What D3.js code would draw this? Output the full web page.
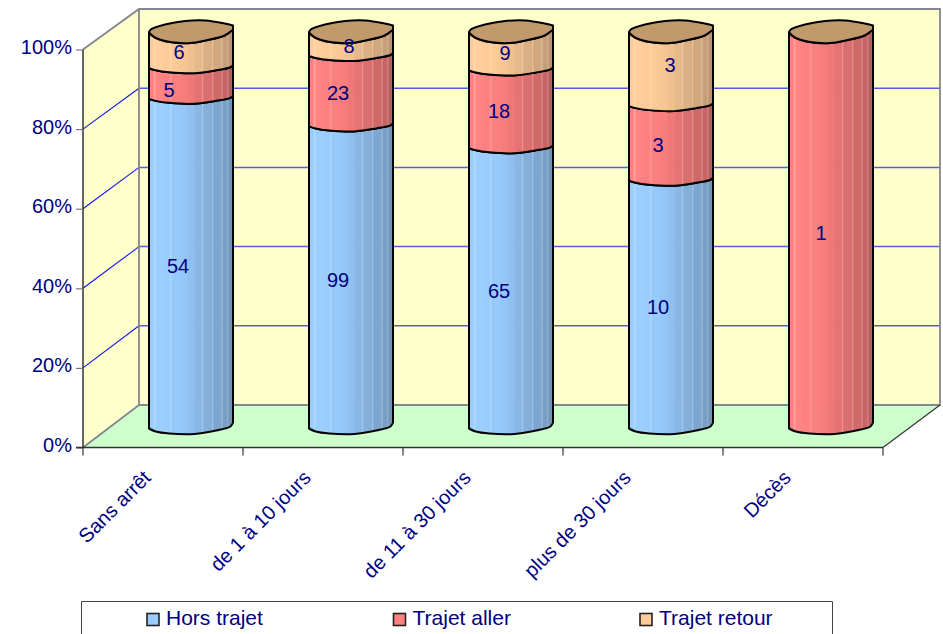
<!DOCTYPE html>
<html><head><meta charset="utf-8">
<script src="https://cdn.jsdelivr.net/npm/d3@7"></script>
<style>html,body{margin:0;background:#fff;overflow:hidden}text{font-family:"Liberation Sans",Arial,sans-serif;fill:#000080}</style>
</head><body><svg id="c" width="943" height="634"></svg>
<script>
const categories = ["Sans arrêt","de 1 à 10 jours","de 11 à 30 jours","plus de 30 jours","Décès"];
const seriesNames = ["Hors trajet","Trajet aller","Trajet retour"];
const horsTrajet = [54,99,65,10,0];
const trajetAller = [5,23,18,3,1];
const trajetRetour = [6,8,9,3,0];
const tickValues = [0,.2,.4,.6,.8,1];
const seriesColors = ["#99ccff","#ff8080","#ffcc99"];

const svg = d3.select("#c");
const yF = d3.scaleLinear().domain([0,1]).range([447.5,49.5]);
const yB = d3.scaleLinear().domain([0,1]).range([405,9]);
const x = d3.scaleBand().domain(categories).range([83,883]);
const DX = 56, BARW = 84, LIFT = 18, LABEL_LIFT = 16;
const xc = d => x(d) + x.bandwidth()/2 + DX/2;

// walls
svg.append("polygon").attr("points",`83,${yF(1)} 139,${yB(1)} 139,${yB(0)} 83,${yF(0)}`).attr("fill","#ffffcc");
svg.append("rect").attr("x",139).attr("y",yB(1)).attr("width",801).attr("height",yB(0)-yB(1)).attr("fill","#ffffcc");
svg.append("polygon").attr("points",`83,${yF(0)} 139,${yB(0)} 940,${yB(0)} 883,${yF(0)}`).attr("fill","#ccffcc");

// grid
const grid = svg.append("g");
tickValues.slice(1,-1).forEach(t=>{
  grid.append("line").attr("x1",83).attr("y1",yF(t)).attr("x2",139).attr("y2",yB(t)).attr("stroke","#1414f0").attr("stroke-width",1.1);
  grid.append("line").attr("x1",139).attr("y1",yB(t)).attr("x2",940).attr("y2",yB(t)).attr("stroke","#5a5ae0").attr("stroke-width",1.5);
});
// wall frame
const G="#85858f";
svg.append("path").attr("fill","none").attr("stroke",G).attr("stroke-width",1.8)
  .attr("d",`M83,${yF(1)}L139,${yB(1)}H940V${yB(0)}H139V${yB(1)}M139,${yB(0)}L83,${yF(0)}`);
svg.append("line").attr("x1",940).attr("y1",yB(0)).attr("x2",883).attr("y2",yF(0)).attr("stroke","#333").attr("stroke-width",1.2);

// axes
const axY = svg.append("g").attr("transform","translate(83,0)")
  .call(d3.axisLeft(yF).tickValues(tickValues).tickFormat(d3.format(".0%")).tickSize(7).tickPadding(4));
axY.select(".domain").attr("stroke","#333").attr("stroke-width",1.5).attr("d",`M0,${yF(0)}V${yF(1)}`);
axY.selectAll(".tick line").attr("stroke","#777").attr("stroke-width",1.2);
axY.selectAll("text").attr("font-size",20).attr("dy","0.2em").attr("fill","#000080").style("font-family",'"Liberation Sans"');

const edges = d3.range(6).map(i=>83+i*x.step());
const axX = svg.append("g").attr("transform",`translate(0,${yF(0)})`);
axX.append("line").attr("x1",76).attr("x2",883).attr("stroke","#333").attr("stroke-width",1.5);
axX.selectAll(".t").data(edges).join("line").attr("class","t").attr("x1",d=>d).attr("x2",d=>d).attr("y1",0).attr("y2",8).attr("stroke","#333").attr("stroke-width",1.2);
svg.append("g").selectAll("text").data(categories).join("text")
  .attr("font-size",20).attr("text-anchor","end")
  .attr("transform",d=>`translate(${x(d)+x.bandwidth()/2-11},479) rotate(-45)`)
  .text(d=>d);

// cylinders
const stack = d3.stack().keys([0,1,2]).value((d,k)=>d[k]).offset(d3.stackOffsetExpand);
const rows = categories.map((c,i)=>[horsTrajet[i],trajetAller[i],trajetRetour[i]]);
const stacked = stack(rows);

const fr = [0,.08,.24,.54,.8,.97,1];
const midArc = [0,2,4,5,2,-1,-3];
const botArc = [-1,2,4,4.5,1,-3,-7];
const lidFr = [0,.07,.25,.49,.67,.9,1];
const topFront = [1,6,10.5,11.5,9,4,-2];
const topBackFr = [0,.02,.19,.43,.67,.9,1];
const topBack = [1,-2,-7,-10.5,-11,-8,-6];
const bandStops = [0,.05,.07,.16,.26,.36,.46,.54,.64,.76,.87,.94,1];
const bandShade = [.0,-.06,-.03,.0,.01,.03,.06,.10,.14,.18,.22,.27];
const stripes = [.07,.26,.64,.76,.87,.94];
const mix=(c,s)=> s<0 ? d3.interpolateRgb(c,"#fff")(-s) : d3.interpolateRgb(c,"#000")(s);

const line = d3.line().curve(d3.curveMonotoneX);
const lineR = d3.line().curve(d3.curveCatmullRom.alpha(.5));
const arcPts = (x0,y0,offs,frs=fr)=>frs.map((f,i)=>[x0+f*BARW,y0+offs[i]]);
const defs = svg.append("defs");
let clipId=0;
const bars = svg.append("g");

categories.forEach((cat,ci)=>{
  const x0 = xc(cat)-BARW/2;
  const g = bars.append("g");
  stacked.forEach((layer,si)=>{
    const [a,b]=layer[ci];
    if(b-a<=0) return;
    const isTop = b>=0.9999, isBot = a<=0.0001;
    const yt = yF(b)-LIFT, yb = yF(a)-LIFT;
    const topPts = isTop?arcPts(x0,yt,topFront,lidFr):arcPts(x0,yt,midArc);
    const botPts = arcPts(x0,yb,isBot?botArc:midArc).reverse();
    const d = lineR(topPts)+"L"+lineR(botPts).slice(1)+"Z";
    const id="cl"+(clipId++);
    defs.append("clipPath").attr("id",id).append("path").attr("d",d);
    const cg=g.append("g").attr("clip-path",`url(#${id})`);
    cg.selectAll("rect").data(bandShade).join("rect")
      .attr("x",(s,i)=>x0+bandStops[i]*BARW).attr("width",(s,i)=>(bandStops[i+1]-bandStops[i])*BARW+.5)
      .attr("y",yt-15).attr("height",yb-yt+30).attr("fill",s=>mix(seriesColors[si],s));
    cg.selectAll("line").data(stripes).join("line")
      .attr("x1",f=>x0+f*BARW).attr("x2",f=>x0+f*BARW).attr("y1",yt-15).attr("y2",yb+15)
      .attr("stroke","#fff").attr("stroke-opacity",.3).attr("stroke-width",1);
    g.append("path").attr("d",d).attr("fill","none").attr("stroke","#000").attr("stroke-width",2).attr("stroke-linejoin","round");
  });
  // top lid
  const yt=yF(1)-LIFT;
  const lid=lineR(arcPts(x0,yt,topFront,lidFr))+"L"+lineR(arcPts(x0,yt,topBack,topBackFr).reverse()).slice(1)+"Z";
  g.append("path").attr("d",lid).attr("fill","#c19a6b").attr("stroke","#000").attr("stroke-width",2).attr("stroke-linejoin","round");
});

// data labels
const labelX = [[-13,-22,-12],[-13,-13,-2],[-12,-12,-6],[-13,-13,-1],[0,-10,0]];
const labelY = [[0,4,0],[0,0,0],[0,0,0],[0,0,-6],[0,0,0]];
const lab = svg.append("g");
stacked.forEach((layer,si)=>categories.forEach((cat,ci)=>{
  const [a,b]=layer[ci];
  if(b-a<=0) return;
  lab.append("text").attr("x",xc(cat)+labelX[ci][si]).attr("y",yF((a+b)/2)-LABEL_LIFT+labelY[ci][si])
    .attr("dy","0.35em").attr("text-anchor","middle").attr("font-size",20).text(rows[ci][si]);
}));

// legend
svg.append("path").attr("d","M81.5,640V601.5H832.5V640").attr("fill","none").attr("stroke","#444").attr("stroke-width",1);
const legX = d3.scalePoint().domain(seriesNames).range([147,640]);
const leg = svg.append("g").selectAll("g").data(seriesNames).join("g").attr("transform",d=>`translate(${legX(d)},0)`);
leg.append("rect").attr("y",613.5).attr("width",12).attr("height",12).attr("fill",(d,i)=>seriesColors[i]).attr("stroke","#222").attr("stroke-width",1.6);
leg.append("text").attr("x",19).attr("y",625).attr("font-size",21).text(d=>d);
</script></body></html>
